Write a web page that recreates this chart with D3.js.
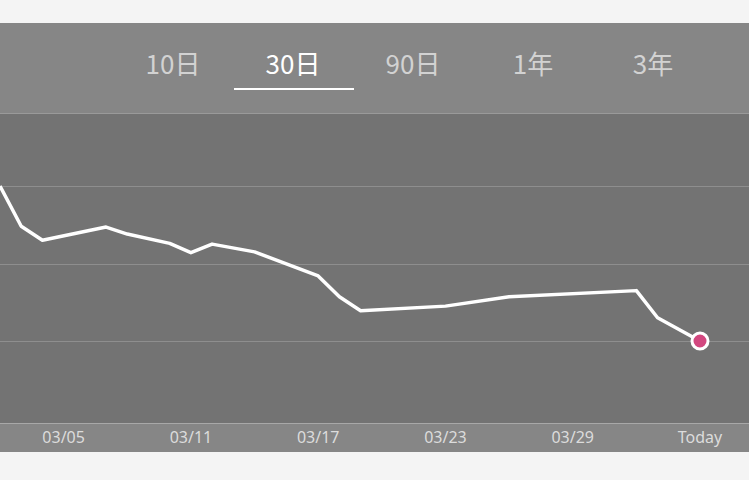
<!DOCTYPE html>
<html>
<head>
<script src="https://d3js.org/d3.v7.min.js"></script>
<style>body{margin:0;background:#f4f4f4;}</style>
</head>
<body>
<script>
// tabs
var tabs = ["10日", "30日", "90日", "1年", "3年"];
var activeTab = 1;
// series: day offset from 03/02, value
var days = [0, 1, 2, 5, 6, 8, 9, 10, 12, 15, 16, 17, 21, 24, 30, 31, 33];
var values = [80, 74.8, 73.0, 74.7, 73.8, 72.6, 71.4, 72.5, 71.5, 68.4, 65.7, 63.9, 64.5, 65.7, 66.5, 63.0, 60];
var tickDays = [3, 9, 15, 21, 27, 33];
var tickLabels = ["03/05", "03/11", "03/17", "03/23", "03/29", "Today"];
var gridValues = [60, 70, 80];

var W = 749, H = 480;
var svg = d3.select("body").append("svg").attr("width", W).attr("height", H)
    .style("font-family", "Noto Sans CJK JP, Noto Sans, sans-serif");

svg.append("rect").attr("x", 0).attr("y", 23).attr("width", W).attr("height", 90).attr("fill", "#868686");
svg.append("rect").attr("x", 0).attr("y", 113).attr("width", W).attr("height", 310).attr("fill", "#737373");
svg.append("rect").attr("x", 0).attr("y", 423).attr("width", W).attr("height", 29).attr("fill", "#868686");
svg.append("line").attr("x1", 0).attr("x2", W).attr("y1", 113.5).attr("y2", 113.5).attr("stroke", "#9a9a9a");
svg.append("line").attr("x1", 0).attr("x2", W).attr("y1", 423.5).attr("y2", 423.5).attr("stroke", "#a8a8a8");

var tabX = d3.scaleBand().domain(tabs).range([113, 713]);
svg.selectAll(".tab").data(tabs).enter().append("text")
    .attr("x", d => tabX(d) + tabX.bandwidth() / 2).attr("y", 74)
    .attr("text-anchor", "middle").attr("font-size", 26)
    .attr("fill", (d, i) => i === activeTab ? "#ffffff" : "#d2d2d2")
    .text(d => d);
svg.append("line")
    .attr("x1", tabX(tabs[activeTab]) + 1).attr("x2", tabX(tabs[activeTab]) + tabX.bandwidth() + 1)
    .attr("y1", 89).attr("y2", 89).attr("stroke", "#fff").attr("stroke-width", 2);

var x = d3.scaleLinear().domain([0, 33]).range([0, 700]);
var y = d3.scaleLinear().domain([60, 80]).range([341, 186]);

svg.selectAll(".grid").data(gridValues).enter().append("line")
    .attr("x1", 0).attr("x2", W)
    .attr("y1", d => Math.round(y(d)) + 0.5).attr("y2", d => Math.round(y(d)) + 0.5)
    .attr("stroke", "#8e8e8e");

var pts = days.map((d, i) => [d, values[i]]);
svg.append("path").datum(pts)
    .attr("d", d3.line().x(d => x(d[0])).y(d => y(d[1])))
    .attr("fill", "none").attr("stroke", "#fff").attr("stroke-width", 3.5)
    .attr("stroke-linejoin", "round");

var last = pts[pts.length - 1];
svg.append("circle").attr("cx", x(last[0])).attr("cy", y(last[1])).attr("r", 8)
    .attr("fill", "#d2477f").attr("stroke", "#fff").attr("stroke-width", 3);

svg.selectAll(".tick").data(tickDays).enter().append("text")
    .attr("x", d => x(d)).attr("y", 443).attr("text-anchor", "middle")
    .attr("font-size", 16).attr("fill", "#dcdcdc")
    .attr("font-family", "Noto Sans, sans-serif")
    .text((d, i) => tickLabels[i]);
</script>
</body>
</html>
